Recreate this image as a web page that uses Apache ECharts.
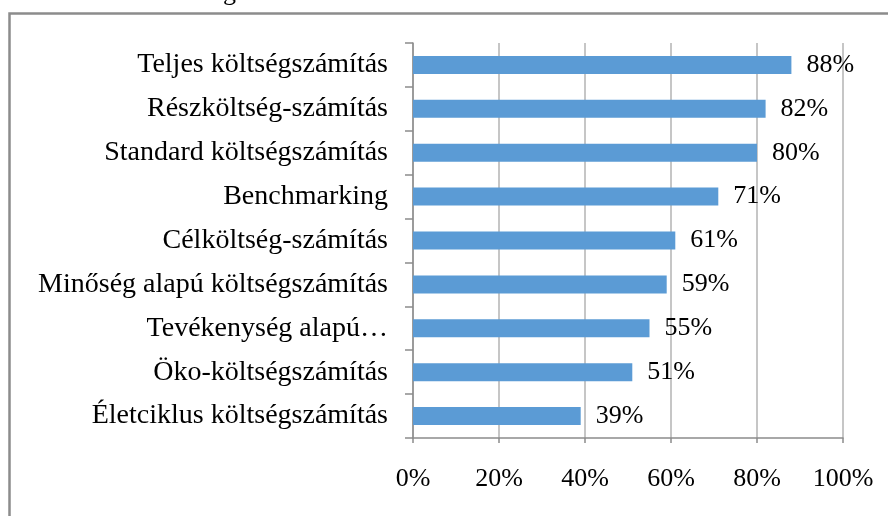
<!DOCTYPE html>
<html>
<head>
<meta charset="utf-8">
<script src="https://cdn.jsdelivr.net/npm/echarts@6/dist/echarts.min.js"></script>
<style>
  html, body { margin: 0; padding: 0; background: #fff; }
  #chart { width: 888px; height: 516px; }
</style>
</head>
<body>
<div id="chart"></div>
<script>
// módszerek, felülről lefelé
const categories = [
  'Teljes költségszámítás',
  'Részköltség-számítás',
  'Standard költségszámítás',
  'Benchmarking',
  'Célköltség-számítás',
  'Minőség alapú költségszámítás',
  'Tevékenység alapú…',
  'Öko-költségszámítás',
  'Életciklus költségszámítás'
];
const values = [88, 82, 80, 71, 61, 59, 55, 51, 39];
const xTicks = [0, 20, 40, 60, 80, 100];

const font = '"Liberation Serif", "Times New Roman", serif';
const chart = echarts.init(document.getElementById('chart'));

chart.setOption({
  animation: false,
  graphic: [
    {
      type: 'rect',
      shape: { x: 9.5, y: 13.5, width: 900, height: 520 },
      style: { fill: 'none', stroke: '#8c8c8c', lineWidth: 2.5 }
    },
    {
      type: 'text',
      left: 223,
      top: -20,
      style: { text: 'g', font: '26px ' + font, fill: '#000' }
    }
  ],
  grid: { left: 413, right: 45, top: 43, bottom: 78 },
  xAxis: {
    type: 'value',
    min: 0,
    max: 100,
    interval: 20,
    axisLine: { show: true, lineStyle: { color: '#8c8c8c', width: 1.5 } },
    axisTick: { show: true, length: 5, lineStyle: { color: '#8c8c8c', width: 1.5 } },
    splitLine: { show: true, lineStyle: { color: '#b3b3b3', width: 1.5 } },
    axisLabel: {
      margin: 28,
      color: '#000',
      fontFamily: font,
      fontSize: 26,
      formatter: v => (xTicks.includes(v) ? v + '%' : '')
    }
  },
  yAxis: {
    type: 'category',
    inverse: true,
    data: categories,
    axisLine: { show: true, lineStyle: { color: '#8c8c8c', width: 1.5 } },
    axisTick: { show: true, length: 8, lineStyle: { color: '#8c8c8c', width: 1.5 } },
    axisLabel: {
      margin: 25,
      color: '#000',
      fontFamily: font,
      fontSize: 28
    }
  },
  series: [{
    type: 'bar',
    data: values,
    barWidth: 18,
    itemStyle: { color: '#5b9bd5' },
    label: {
      show: true,
      position: 'right',
      distance: 15,
      color: '#000',
      fontFamily: font,
      fontSize: 26,
      formatter: p => p.value + '%'
    }
  }]
});
</script>
</body>
</html>
